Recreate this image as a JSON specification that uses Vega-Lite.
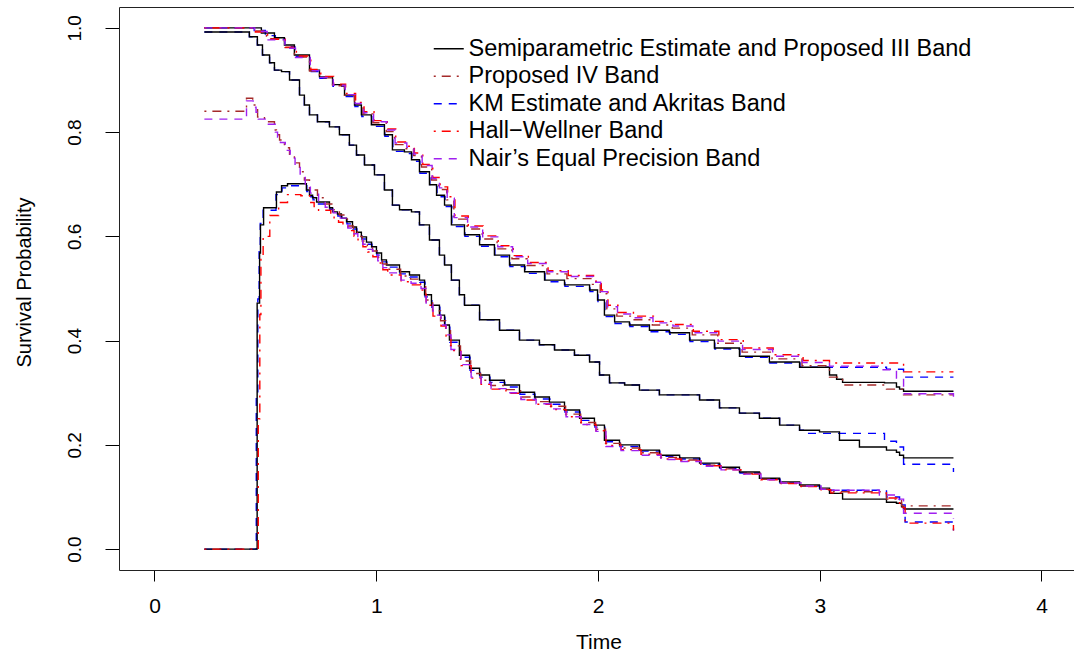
{
"$schema":"https://vega.github.io/schema/vega-lite/v6.json",
"width":955,"height":563,"autosize":"none",
"padding":{"left":119,"top":7,"right":0,"bottom":84},
"background":"white",
"view":{"stroke":null},
"config":{"axis":{"grid":false,"domainColor":"#222","domainWidth":1,"tickColor":"#000","tickWidth":1,"labelColor":"#000","titleColor":"#000","titleFontWeight":"normal"}},
"datasets":{
"meta":[{"c":"S","g":"Semiparametric Estimate and Proposed III Band"},{"c":"U3","g":"Semiparametric Estimate and Proposed III Band"},{"c":"L3","g":"Semiparametric Estimate and Proposed III Band"},{"c":"U4","g":"Proposed IV Band"},{"c":"L4","g":"Proposed IV Band"},{"c":"KM","g":"KM Estimate and Akritas Band"},{"c":"UA","g":"KM Estimate and Akritas Band"},{"c":"LA","g":"KM Estimate and Akritas Band"},{"c":"UH","g":"Hall−Wellner Band"},{"c":"LH","g":"Hall−Wellner Band"},{"c":"UN","g":"Nair’s Equal Precision Band"},{"c":"LN","g":"Nair’s Equal Precision Band"}],
"curves":[
{"c":"KM","t":0.225,"p":0.992},{"c":"KM","t":0.428,"p":0.983},{"c":"KM","t":0.464,"p":0.967},{"c":"KM","t":0.487,"p":0.948},{"c":"KM","t":0.519,"p":0.933},{"c":"KM","t":0.541,"p":0.919},{"c":"KM","t":0.573,"p":0.916},{"c":"KM","t":0.609,"p":0.9},{"c":"KM","t":0.654,"p":0.871},{"c":"KM","t":0.676,"p":0.852},{"c":"KM","t":0.699,"p":0.833},{"c":"KM","t":0.735,"p":0.82},{"c":"KM","t":0.789,"p":0.81},{"c":"KM","t":0.834,"p":0.795},{"c":"KM","t":0.879,"p":0.775},{"c":"KM","t":0.911,"p":0.756},{"c":"KM","t":0.947,"p":0.737},{"c":"KM","t":0.992,"p":0.718},{"c":"KM","t":1.037,"p":0.689},{"c":"KM","t":1.073,"p":0.66},{"c":"KM","t":1.105,"p":0.651},{"c":"KM","t":1.159,"p":0.647},{"c":"KM","t":1.195,"p":0.622},{"c":"KM","t":1.24,"p":0.593},{"c":"KM","t":1.285,"p":0.564},{"c":"KM","t":1.308,"p":0.545},{"c":"KM","t":1.339,"p":0.516},{"c":"KM","t":1.375,"p":0.488},{"c":"KM","t":1.398,"p":0.468},{"c":"KM","t":1.466,"p":0.44},{"c":"KM","t":1.556,"p":0.42},{"c":"KM","t":1.646,"p":0.401},{"c":"KM","t":1.736,"p":0.392},{"c":"KM","t":1.804,"p":0.382},{"c":"KM","t":1.894,"p":0.372},{"c":"KM","t":1.962,"p":0.359},{"c":"KM","t":2.007,"p":0.334},{"c":"KM","t":2.052,"p":0.319},{"c":"KM","t":2.12,"p":0.315},{"c":"KM","t":2.187,"p":0.305},{"c":"KM","t":2.277,"p":0.296},{"c":"KM","t":2.458,"p":0.286},{"c":"KM","t":2.548,"p":0.271},{"c":"KM","t":2.638,"p":0.261},{"c":"KM","t":2.728,"p":0.251},{"c":"KM","t":2.819,"p":0.238},{"c":"KM","t":2.909,"p":0.228},{"c":"KM","t":2.95,"p":0.222},{"c":"KM","t":3.292,"p":0.207},{"c":"KM","t":3.346,"p":0.196},{"c":"KM","t":3.378,"p":0.163},{"c":"KM","t":3.603,"p":0.148},
{"c":"UA","t":0.225,"p":1.0},{"c":"UA","t":0.45,"p":0.995},{"c":"UA","t":0.5,"p":0.985},{"c":"UA","t":0.545,"p":0.978},{"c":"UA","t":0.588,"p":0.964},{"c":"UA","t":0.633,"p":0.945},{"c":"UA","t":0.701,"p":0.916},{"c":"UA","t":0.746,"p":0.903},{"c":"UA","t":0.805,"p":0.888},{"c":"UA","t":0.859,"p":0.868},{"c":"UA","t":0.904,"p":0.849},{"c":"UA","t":0.935,"p":0.83},{"c":"UA","t":0.98,"p":0.811},{"c":"UA","t":1.039,"p":0.792},{"c":"UA","t":1.075,"p":0.763},{"c":"UA","t":1.129,"p":0.759},{"c":"UA","t":1.161,"p":0.744},{"c":"UA","t":1.197,"p":0.721},{"c":"UA","t":1.242,"p":0.696},{"c":"UA","t":1.274,"p":0.676},{"c":"UA","t":1.31,"p":0.657},{"c":"UA","t":1.341,"p":0.619},{"c":"UA","t":1.4,"p":0.6},{"c":"UA","t":1.468,"p":0.581},{"c":"UA","t":1.535,"p":0.561},{"c":"UA","t":1.603,"p":0.542},{"c":"UA","t":1.671,"p":0.529},{"c":"UA","t":1.761,"p":0.513},{"c":"UA","t":1.851,"p":0.504},{"c":"UA","t":1.964,"p":0.494},{"c":"UA","t":2.0,"p":0.475},{"c":"UA","t":2.031,"p":0.446},{"c":"UA","t":2.077,"p":0.433},{"c":"UA","t":2.144,"p":0.427},{"c":"UA","t":2.234,"p":0.417},{"c":"UA","t":2.324,"p":0.412},{"c":"UA","t":2.415,"p":0.398},{"c":"UA","t":2.527,"p":0.384},{"c":"UA","t":2.64,"p":0.368},{"c":"UA","t":2.775,"p":0.357},{"c":"UA","t":2.911,"p":0.349},{"c":"UA","t":3.301,"p":0.345},{"c":"UA","t":3.378,"p":0.33},{"c":"UA","t":3.603,"p":0.33},
{"c":"LA","t":0.225,"p":0.0},{"c":"LA","t":0.459,"p":0.3},{"c":"LA","t":0.466,"p":0.48},{"c":"LA","t":0.472,"p":0.575},{"c":"LA","t":0.477,"p":0.625},{"c":"LA","t":0.49,"p":0.65},{"c":"LA","t":0.548,"p":0.68},{"c":"LA","t":0.575,"p":0.693},{"c":"LA","t":0.602,"p":0.697},{"c":"LA","t":0.687,"p":0.686},{"c":"LA","t":0.701,"p":0.676},{"c":"LA","t":0.715,"p":0.67},{"c":"LA","t":0.733,"p":0.662},{"c":"LA","t":0.791,"p":0.652},{"c":"LA","t":0.805,"p":0.644},{"c":"LA","t":0.827,"p":0.639},{"c":"LA","t":0.845,"p":0.631},{"c":"LA","t":0.868,"p":0.624},{"c":"LA","t":0.895,"p":0.614},{"c":"LA","t":0.913,"p":0.604},{"c":"LA","t":0.935,"p":0.595},{"c":"LA","t":0.958,"p":0.585},{"c":"LA","t":0.981,"p":0.576},{"c":"LA","t":1.003,"p":0.564},{"c":"LA","t":1.026,"p":0.551},{"c":"LA","t":1.048,"p":0.541},{"c":"LA","t":1.107,"p":0.528},{"c":"LA","t":1.152,"p":0.522},{"c":"LA","t":1.197,"p":0.512},{"c":"LA","t":1.22,"p":0.484},{"c":"LA","t":1.251,"p":0.464},{"c":"LA","t":1.287,"p":0.445},{"c":"LA","t":1.31,"p":0.426},{"c":"LA","t":1.332,"p":0.397},{"c":"LA","t":1.377,"p":0.368},{"c":"LA","t":1.423,"p":0.343},{"c":"LA","t":1.468,"p":0.33},{"c":"LA","t":1.513,"p":0.32},{"c":"LA","t":1.58,"p":0.311},{"c":"LA","t":1.648,"p":0.297},{"c":"LA","t":1.716,"p":0.288},{"c":"LA","t":1.783,"p":0.278},{"c":"LA","t":1.851,"p":0.263},{"c":"LA","t":1.919,"p":0.247},{"c":"LA","t":1.986,"p":0.234},{"c":"LA","t":2.031,"p":0.206},{"c":"LA","t":2.099,"p":0.197},{"c":"LA","t":2.189,"p":0.188},{"c":"LA","t":2.279,"p":0.178},{"c":"LA","t":2.37,"p":0.173},{"c":"LA","t":2.46,"p":0.163},{"c":"LA","t":2.55,"p":0.155},{"c":"LA","t":2.64,"p":0.146},{"c":"LA","t":2.73,"p":0.134},{"c":"LA","t":2.821,"p":0.127},{"c":"LA","t":2.911,"p":0.121},{"c":"LA","t":3.001,"p":0.115},{"c":"LA","t":3.044,"p":0.113},{"c":"LA","t":3.301,"p":0.1},{"c":"LA","t":3.36,"p":0.085},{"c":"LA","t":3.385,"p":0.052},{"c":"LA","t":3.603,"p":0.036},
{"c":"S","t":0.225,"p":0.992},{"c":"S","t":0.428,"p":0.983},{"c":"S","t":0.464,"p":0.967},{"c":"S","t":0.487,"p":0.948},{"c":"S","t":0.519,"p":0.933},{"c":"S","t":0.541,"p":0.919},{"c":"S","t":0.573,"p":0.916},{"c":"S","t":0.609,"p":0.9},{"c":"S","t":0.654,"p":0.871},{"c":"S","t":0.676,"p":0.852},{"c":"S","t":0.699,"p":0.833},{"c":"S","t":0.735,"p":0.82},{"c":"S","t":0.789,"p":0.81},{"c":"S","t":0.834,"p":0.795},{"c":"S","t":0.879,"p":0.775},{"c":"S","t":0.911,"p":0.756},{"c":"S","t":0.947,"p":0.737},{"c":"S","t":0.992,"p":0.718},{"c":"S","t":1.037,"p":0.689},{"c":"S","t":1.073,"p":0.66},{"c":"S","t":1.105,"p":0.651},{"c":"S","t":1.159,"p":0.647},{"c":"S","t":1.195,"p":0.622},{"c":"S","t":1.24,"p":0.593},{"c":"S","t":1.285,"p":0.564},{"c":"S","t":1.308,"p":0.545},{"c":"S","t":1.339,"p":0.516},{"c":"S","t":1.375,"p":0.488},{"c":"S","t":1.398,"p":0.468},{"c":"S","t":1.466,"p":0.44},{"c":"S","t":1.556,"p":0.42},{"c":"S","t":1.646,"p":0.401},{"c":"S","t":1.736,"p":0.392},{"c":"S","t":1.804,"p":0.382},{"c":"S","t":1.894,"p":0.372},{"c":"S","t":1.962,"p":0.359},{"c":"S","t":2.007,"p":0.334},{"c":"S","t":2.052,"p":0.319},{"c":"S","t":2.12,"p":0.315},{"c":"S","t":2.187,"p":0.305},{"c":"S","t":2.277,"p":0.296},{"c":"S","t":2.458,"p":0.286},{"c":"S","t":2.548,"p":0.271},{"c":"S","t":2.638,"p":0.261},{"c":"S","t":2.728,"p":0.251},{"c":"S","t":2.819,"p":0.238},{"c":"S","t":2.909,"p":0.228},{"c":"S","t":2.999,"p":0.225},{"c":"S","t":3.089,"p":0.209},{"c":"S","t":3.179,"p":0.196},{"c":"S","t":3.301,"p":0.19},{"c":"S","t":3.346,"p":0.186},{"c":"S","t":3.36,"p":0.18},{"c":"S","t":3.378,"p":0.175},{"c":"S","t":3.603,"p":0.175},
{"c":"U3","t":0.225,"p":1.0},{"c":"U3","t":0.482,"p":0.99},{"c":"U3","t":0.541,"p":0.981},{"c":"U3","t":0.586,"p":0.967},{"c":"U3","t":0.631,"p":0.948},{"c":"U3","t":0.699,"p":0.919},{"c":"U3","t":0.744,"p":0.906},{"c":"U3","t":0.803,"p":0.891},{"c":"U3","t":0.857,"p":0.871},{"c":"U3","t":0.902,"p":0.852},{"c":"U3","t":0.933,"p":0.833},{"c":"U3","t":0.978,"p":0.814},{"c":"U3","t":1.037,"p":0.795},{"c":"U3","t":1.073,"p":0.766},{"c":"U3","t":1.127,"p":0.762},{"c":"U3","t":1.159,"p":0.747},{"c":"U3","t":1.195,"p":0.724},{"c":"U3","t":1.24,"p":0.699},{"c":"U3","t":1.272,"p":0.679},{"c":"U3","t":1.308,"p":0.66},{"c":"U3","t":1.339,"p":0.622},{"c":"U3","t":1.398,"p":0.603},{"c":"U3","t":1.466,"p":0.584},{"c":"U3","t":1.533,"p":0.564},{"c":"U3","t":1.601,"p":0.545},{"c":"U3","t":1.669,"p":0.532},{"c":"U3","t":1.759,"p":0.516},{"c":"U3","t":1.849,"p":0.507},{"c":"U3","t":1.962,"p":0.497},{"c":"U3","t":1.998,"p":0.478},{"c":"U3","t":2.029,"p":0.449},{"c":"U3","t":2.075,"p":0.436},{"c":"U3","t":2.142,"p":0.43},{"c":"U3","t":2.232,"p":0.42},{"c":"U3","t":2.322,"p":0.415},{"c":"U3","t":2.413,"p":0.401},{"c":"U3","t":2.525,"p":0.386},{"c":"U3","t":2.638,"p":0.37},{"c":"U3","t":2.773,"p":0.359},{"c":"U3","t":2.909,"p":0.349},{"c":"U3","t":3.044,"p":0.334},{"c":"U3","t":3.076,"p":0.326},{"c":"U3","t":3.103,"p":0.32},{"c":"U3","t":3.292,"p":0.319},{"c":"U3","t":3.346,"p":0.311},{"c":"U3","t":3.36,"p":0.307},{"c":"U3","t":3.378,"p":0.303},{"c":"U3","t":3.603,"p":0.303},
{"c":"L3","t":0.225,"p":0.0},{"c":"L3","t":0.463,"p":0.472},{"c":"L3","t":0.474,"p":0.568},{"c":"L3","t":0.478,"p":0.622},{"c":"L3","t":0.492,"p":0.655},{"c":"L3","t":0.55,"p":0.685},{"c":"L3","t":0.573,"p":0.697},{"c":"L3","t":0.6,"p":0.701},{"c":"L3","t":0.685,"p":0.689},{"c":"L3","t":0.699,"p":0.679},{"c":"L3","t":0.713,"p":0.674},{"c":"L3","t":0.731,"p":0.666},{"c":"L3","t":0.789,"p":0.655},{"c":"L3","t":0.803,"p":0.647},{"c":"L3","t":0.825,"p":0.643},{"c":"L3","t":0.843,"p":0.635},{"c":"L3","t":0.866,"p":0.628},{"c":"L3","t":0.893,"p":0.618},{"c":"L3","t":0.911,"p":0.608},{"c":"L3","t":0.933,"p":0.599},{"c":"L3","t":0.956,"p":0.589},{"c":"L3","t":0.979,"p":0.58},{"c":"L3","t":1.001,"p":0.568},{"c":"L3","t":1.024,"p":0.555},{"c":"L3","t":1.046,"p":0.545},{"c":"L3","t":1.105,"p":0.532},{"c":"L3","t":1.15,"p":0.526},{"c":"L3","t":1.195,"p":0.516},{"c":"L3","t":1.218,"p":0.488},{"c":"L3","t":1.249,"p":0.468},{"c":"L3","t":1.285,"p":0.449},{"c":"L3","t":1.308,"p":0.43},{"c":"L3","t":1.33,"p":0.401},{"c":"L3","t":1.375,"p":0.372},{"c":"L3","t":1.421,"p":0.347},{"c":"L3","t":1.466,"p":0.334},{"c":"L3","t":1.511,"p":0.324},{"c":"L3","t":1.578,"p":0.315},{"c":"L3","t":1.646,"p":0.301},{"c":"L3","t":1.714,"p":0.292},{"c":"L3","t":1.781,"p":0.282},{"c":"L3","t":1.849,"p":0.267},{"c":"L3","t":1.917,"p":0.251},{"c":"L3","t":1.984,"p":0.238},{"c":"L3","t":2.029,"p":0.209},{"c":"L3","t":2.097,"p":0.2},{"c":"L3","t":2.187,"p":0.19},{"c":"L3","t":2.277,"p":0.18},{"c":"L3","t":2.368,"p":0.175},{"c":"L3","t":2.458,"p":0.165},{"c":"L3","t":2.548,"p":0.157},{"c":"L3","t":2.638,"p":0.148},{"c":"L3","t":2.728,"p":0.136},{"c":"L3","t":2.819,"p":0.129},{"c":"L3","t":2.909,"p":0.123},{"c":"L3","t":2.999,"p":0.117},{"c":"L3","t":3.044,"p":0.107},{"c":"L3","t":3.103,"p":0.096},{"c":"L3","t":3.301,"p":0.09},{"c":"L3","t":3.346,"p":0.088},{"c":"L3","t":3.369,"p":0.081},{"c":"L3","t":3.378,"p":0.077},{"c":"L3","t":3.603,"p":0.077},
{"c":"U4","t":0.225,"p":1.0},{"c":"U4","t":0.45,"p":0.994},{"c":"U4","t":0.505,"p":0.979},{"c":"U4","t":0.586,"p":0.962},{"c":"U4","t":0.631,"p":0.944},{"c":"U4","t":0.699,"p":0.917},{"c":"U4","t":0.744,"p":0.904},{"c":"U4","t":0.803,"p":0.889},{"c":"U4","t":0.857,"p":0.871},{"c":"U4","t":0.902,"p":0.854},{"c":"U4","t":0.94,"p":0.835},{"c":"U4","t":0.985,"p":0.818},{"c":"U4","t":1.045,"p":0.801},{"c":"U4","t":1.082,"p":0.776},{"c":"U4","t":1.135,"p":0.768},{"c":"U4","t":1.168,"p":0.755},{"c":"U4","t":1.204,"p":0.733},{"c":"U4","t":1.25,"p":0.708},{"c":"U4","t":1.282,"p":0.69},{"c":"U4","t":1.318,"p":0.67},{"c":"U4","t":1.35,"p":0.633},{"c":"U4","t":1.41,"p":0.614},{"c":"U4","t":1.478,"p":0.595},{"c":"U4","t":1.545,"p":0.576},{"c":"U4","t":1.612,"p":0.557},{"c":"U4","t":1.68,"p":0.544},{"c":"U4","t":1.77,"p":0.528},{"c":"U4","t":1.86,"p":0.519},{"c":"U4","t":1.975,"p":0.508},{"c":"U4","t":2.01,"p":0.49},{"c":"U4","t":2.04,"p":0.461},{"c":"U4","t":2.085,"p":0.447},{"c":"U4","t":2.155,"p":0.44},{"c":"U4","t":2.245,"p":0.43},{"c":"U4","t":2.335,"p":0.424},{"c":"U4","t":2.425,"p":0.411},{"c":"U4","t":2.54,"p":0.395},{"c":"U4","t":2.65,"p":0.378},{"c":"U4","t":2.785,"p":0.365},{"c":"U4","t":2.92,"p":0.352},{"c":"U4","t":3.044,"p":0.33},{"c":"U4","t":3.103,"p":0.315},{"c":"U4","t":3.301,"p":0.307},{"c":"U4","t":3.378,"p":0.296},{"c":"U4","t":3.603,"p":0.296},
{"c":"L4","t":0.225,"p":0.84},{"c":"L4","t":0.415,"p":0.865},{"c":"L4","t":0.443,"p":0.852},{"c":"L4","t":0.456,"p":0.843},{"c":"L4","t":0.465,"p":0.829},{"c":"L4","t":0.496,"p":0.82},{"c":"L4","t":0.541,"p":0.804},{"c":"L4","t":0.55,"p":0.795},{"c":"L4","t":0.564,"p":0.785},{"c":"L4","t":0.586,"p":0.77},{"c":"L4","t":0.609,"p":0.756},{"c":"L4","t":0.631,"p":0.741},{"c":"L4","t":0.654,"p":0.724},{"c":"L4","t":0.676,"p":0.708},{"c":"L4","t":0.699,"p":0.689},{"c":"L4","t":0.735,"p":0.674},{"c":"L4","t":0.766,"p":0.662},{"c":"L4","t":0.803,"p":0.651},{"c":"L4","t":0.834,"p":0.641},{"c":"L4","t":0.87,"p":0.62},{"c":"L4","t":0.897,"p":0.61},{"c":"L4","t":0.915,"p":0.6},{"c":"L4","t":0.937,"p":0.591},{"c":"L4","t":0.96,"p":0.581},{"c":"L4","t":0.983,"p":0.572},{"c":"L4","t":1.005,"p":0.56},{"c":"L4","t":1.028,"p":0.547},{"c":"L4","t":1.05,"p":0.537},{"c":"L4","t":1.11,"p":0.524},{"c":"L4","t":1.155,"p":0.518},{"c":"L4","t":1.2,"p":0.508},{"c":"L4","t":1.223,"p":0.478},{"c":"L4","t":1.254,"p":0.457},{"c":"L4","t":1.29,"p":0.438},{"c":"L4","t":1.313,"p":0.419},{"c":"L4","t":1.335,"p":0.39},{"c":"L4","t":1.38,"p":0.361},{"c":"L4","t":1.426,"p":0.337},{"c":"L4","t":1.471,"p":0.324},{"c":"L4","t":1.516,"p":0.314},{"c":"L4","t":1.583,"p":0.306},{"c":"L4","t":1.651,"p":0.292},{"c":"L4","t":1.719,"p":0.283},{"c":"L4","t":1.786,"p":0.274},{"c":"L4","t":1.854,"p":0.259},{"c":"L4","t":1.922,"p":0.243},{"c":"L4","t":1.989,"p":0.23},{"c":"L4","t":2.034,"p":0.203},{"c":"L4","t":2.102,"p":0.194},{"c":"L4","t":2.192,"p":0.185},{"c":"L4","t":2.282,"p":0.176},{"c":"L4","t":2.373,"p":0.171},{"c":"L4","t":2.463,"p":0.161},{"c":"L4","t":2.553,"p":0.154},{"c":"L4","t":2.643,"p":0.145},{"c":"L4","t":2.733,"p":0.134},{"c":"L4","t":2.824,"p":0.127},{"c":"L4","t":2.914,"p":0.121},{"c":"L4","t":3.004,"p":0.115},{"c":"L4","t":3.05,"p":0.11},{"c":"L4","t":3.301,"p":0.096},{"c":"L4","t":3.369,"p":0.083},{"c":"L4","t":3.603,"p":0.083},
{"c":"UH","t":0.225,"p":1.0},{"c":"UH","t":0.455,"p":0.992},{"c":"UH","t":0.51,"p":0.978},{"c":"UH","t":0.59,"p":0.963},{"c":"UH","t":0.64,"p":0.946},{"c":"UH","t":0.705,"p":0.92},{"c":"UH","t":0.75,"p":0.907},{"c":"UH","t":0.808,"p":0.892},{"c":"UH","t":0.862,"p":0.874},{"c":"UH","t":0.907,"p":0.857},{"c":"UH","t":0.945,"p":0.839},{"c":"UH","t":0.99,"p":0.822},{"c":"UH","t":1.05,"p":0.806},{"c":"UH","t":1.088,"p":0.781},{"c":"UH","t":1.14,"p":0.773},{"c":"UH","t":1.172,"p":0.76},{"c":"UH","t":1.21,"p":0.738},{"c":"UH","t":1.255,"p":0.713},{"c":"UH","t":1.288,"p":0.695},{"c":"UH","t":1.322,"p":0.676},{"c":"UH","t":1.355,"p":0.639},{"c":"UH","t":1.415,"p":0.62},{"c":"UH","t":1.482,"p":0.601},{"c":"UH","t":1.55,"p":0.582},{"c":"UH","t":1.618,"p":0.563},{"c":"UH","t":1.686,"p":0.55},{"c":"UH","t":1.775,"p":0.534},{"c":"UH","t":1.866,"p":0.525},{"c":"UH","t":1.98,"p":0.514},{"c":"UH","t":2.015,"p":0.497},{"c":"UH","t":2.045,"p":0.468},{"c":"UH","t":2.09,"p":0.454},{"c":"UH","t":2.16,"p":0.447},{"c":"UH","t":2.25,"p":0.437},{"c":"UH","t":2.34,"p":0.431},{"c":"UH","t":2.43,"p":0.418},{"c":"UH","t":2.545,"p":0.402},{"c":"UH","t":2.655,"p":0.386},{"c":"UH","t":2.79,"p":0.373},{"c":"UH","t":2.925,"p":0.362},{"c":"UH","t":3.044,"p":0.357},{"c":"UH","t":3.378,"p":0.34},{"c":"UH","t":3.603,"p":0.34},
{"c":"LH","t":0.225,"p":0.0},{"c":"LH","t":0.468,"p":0.25},{"c":"LH","t":0.475,"p":0.45},{"c":"LH","t":0.48,"p":0.56},{"c":"LH","t":0.49,"p":0.6},{"c":"LH","t":0.52,"p":0.64},{"c":"LH","t":0.56,"p":0.665},{"c":"LH","t":0.6,"p":0.68},{"c":"LH","t":0.66,"p":0.678},{"c":"LH","t":0.7,"p":0.665},{"c":"LH","t":0.72,"p":0.657},{"c":"LH","t":0.74,"p":0.65},{"c":"LH","t":0.795,"p":0.64},{"c":"LH","t":0.81,"p":0.632},{"c":"LH","t":0.83,"p":0.627},{"c":"LH","t":0.85,"p":0.619},{"c":"LH","t":0.872,"p":0.611},{"c":"LH","t":0.9,"p":0.6},{"c":"LH","t":0.918,"p":0.59},{"c":"LH","t":0.94,"p":0.58},{"c":"LH","t":0.962,"p":0.57},{"c":"LH","t":0.985,"p":0.561},{"c":"LH","t":1.008,"p":0.549},{"c":"LH","t":1.03,"p":0.536},{"c":"LH","t":1.052,"p":0.526},{"c":"LH","t":1.112,"p":0.513},{"c":"LH","t":1.157,"p":0.507},{"c":"LH","t":1.202,"p":0.497},{"c":"LH","t":1.225,"p":0.468},{"c":"LH","t":1.256,"p":0.447},{"c":"LH","t":1.292,"p":0.428},{"c":"LH","t":1.315,"p":0.409},{"c":"LH","t":1.337,"p":0.381},{"c":"LH","t":1.382,"p":0.352},{"c":"LH","t":1.428,"p":0.328},{"c":"LH","t":1.473,"p":0.316},{"c":"LH","t":1.518,"p":0.307},{"c":"LH","t":1.585,"p":0.299},{"c":"LH","t":1.653,"p":0.286},{"c":"LH","t":1.721,"p":0.278},{"c":"LH","t":1.788,"p":0.268},{"c":"LH","t":1.856,"p":0.254},{"c":"LH","t":1.924,"p":0.239},{"c":"LH","t":1.991,"p":0.227},{"c":"LH","t":2.036,"p":0.199},{"c":"LH","t":2.104,"p":0.191},{"c":"LH","t":2.194,"p":0.182},{"c":"LH","t":2.284,"p":0.173},{"c":"LH","t":2.375,"p":0.169},{"c":"LH","t":2.465,"p":0.16},{"c":"LH","t":2.555,"p":0.152},{"c":"LH","t":2.645,"p":0.144},{"c":"LH","t":2.735,"p":0.133},{"c":"LH","t":2.826,"p":0.126},{"c":"LH","t":2.916,"p":0.12},{"c":"LH","t":3.006,"p":0.114},{"c":"LH","t":3.05,"p":0.108},{"c":"LH","t":3.3,"p":0.098},{"c":"LH","t":3.36,"p":0.08},{"c":"LH","t":3.385,"p":0.05},{"c":"LH","t":3.603,"p":0.036},
{"c":"UN","t":0.225,"p":1.0},{"c":"UN","t":0.452,"p":0.993},{"c":"UN","t":0.508,"p":0.977},{"c":"UN","t":0.588,"p":0.961},{"c":"UN","t":0.636,"p":0.943},{"c":"UN","t":0.702,"p":0.918},{"c":"UN","t":0.748,"p":0.905},{"c":"UN","t":0.806,"p":0.89},{"c":"UN","t":0.86,"p":0.872},{"c":"UN","t":0.905,"p":0.855},{"c":"UN","t":0.943,"p":0.837},{"c":"UN","t":0.988,"p":0.82},{"c":"UN","t":1.048,"p":0.804},{"c":"UN","t":1.085,"p":0.779},{"c":"UN","t":1.138,"p":0.771},{"c":"UN","t":1.17,"p":0.758},{"c":"UN","t":1.207,"p":0.736},{"c":"UN","t":1.252,"p":0.711},{"c":"UN","t":1.285,"p":0.693},{"c":"UN","t":1.32,"p":0.673},{"c":"UN","t":1.352,"p":0.636},{"c":"UN","t":1.412,"p":0.618},{"c":"UN","t":1.48,"p":0.599},{"c":"UN","t":1.548,"p":0.58},{"c":"UN","t":1.615,"p":0.561},{"c":"UN","t":1.683,"p":0.548},{"c":"UN","t":1.773,"p":0.532},{"c":"UN","t":1.863,"p":0.523},{"c":"UN","t":1.978,"p":0.512},{"c":"UN","t":2.012,"p":0.494},{"c":"UN","t":2.042,"p":0.465},{"c":"UN","t":2.088,"p":0.451},{"c":"UN","t":2.158,"p":0.444},{"c":"UN","t":2.248,"p":0.434},{"c":"UN","t":2.338,"p":0.428},{"c":"UN","t":2.428,"p":0.415},{"c":"UN","t":2.542,"p":0.399},{"c":"UN","t":2.652,"p":0.383},{"c":"UN","t":2.788,"p":0.37},{"c":"UN","t":2.922,"p":0.358},{"c":"UN","t":3.044,"p":0.351},{"c":"UN","t":3.269,"p":0.344},{"c":"UN","t":3.346,"p":0.328},{"c":"UN","t":3.378,"p":0.298},{"c":"UN","t":3.603,"p":0.286},
{"c":"LN","t":0.225,"p":0.825},{"c":"LN","t":0.415,"p":0.86},{"c":"LN","t":0.445,"p":0.848},{"c":"LN","t":0.458,"p":0.838},{"c":"LN","t":0.468,"p":0.825},{"c":"LN","t":0.5,"p":0.815},{"c":"LN","t":0.545,"p":0.8},{"c":"LN","t":0.555,"p":0.79},{"c":"LN","t":0.568,"p":0.78},{"c":"LN","t":0.59,"p":0.765},{"c":"LN","t":0.612,"p":0.75},{"c":"LN","t":0.634,"p":0.735},{"c":"LN","t":0.657,"p":0.718},{"c":"LN","t":0.68,"p":0.7},{"c":"LN","t":0.703,"p":0.683},{"c":"LN","t":0.74,"p":0.668},{"c":"LN","t":0.77,"p":0.656},{"c":"LN","t":0.806,"p":0.645},{"c":"LN","t":0.838,"p":0.635},{"c":"LN","t":0.872,"p":0.616},{"c":"LN","t":0.899,"p":0.605},{"c":"LN","t":0.917,"p":0.595},{"c":"LN","t":0.939,"p":0.585},{"c":"LN","t":0.962,"p":0.575},{"c":"LN","t":0.985,"p":0.565},{"c":"LN","t":1.007,"p":0.553},{"c":"LN","t":1.03,"p":0.54},{"c":"LN","t":1.052,"p":0.53},{"c":"LN","t":1.112,"p":0.516},{"c":"LN","t":1.157,"p":0.51},{"c":"LN","t":1.202,"p":0.5},{"c":"LN","t":1.225,"p":0.47},{"c":"LN","t":1.256,"p":0.449},{"c":"LN","t":1.292,"p":0.43},{"c":"LN","t":1.315,"p":0.411},{"c":"LN","t":1.337,"p":0.383},{"c":"LN","t":1.382,"p":0.354},{"c":"LN","t":1.428,"p":0.33},{"c":"LN","t":1.473,"p":0.318},{"c":"LN","t":1.518,"p":0.308},{"c":"LN","t":1.585,"p":0.3},{"c":"LN","t":1.653,"p":0.287},{"c":"LN","t":1.721,"p":0.279},{"c":"LN","t":1.788,"p":0.269},{"c":"LN","t":1.856,"p":0.254},{"c":"LN","t":1.924,"p":0.239},{"c":"LN","t":1.991,"p":0.226},{"c":"LN","t":2.036,"p":0.197},{"c":"LN","t":2.104,"p":0.189},{"c":"LN","t":2.194,"p":0.18},{"c":"LN","t":2.284,"p":0.172},{"c":"LN","t":2.375,"p":0.168},{"c":"LN","t":2.465,"p":0.159},{"c":"LN","t":2.555,"p":0.152},{"c":"LN","t":2.645,"p":0.144},{"c":"LN","t":2.735,"p":0.133},{"c":"LN","t":2.826,"p":0.127},{"c":"LN","t":2.916,"p":0.121},{"c":"LN","t":3.006,"p":0.115},{"c":"LN","t":3.044,"p":0.113},{"c":"LN","t":3.269,"p":0.104},{"c":"LN","t":3.346,"p":0.096},{"c":"LN","t":3.378,"p":0.069},{"c":"LN","t":3.603,"p":0.058}
]},
"data":{"name":"curves"},
"transform":[{"lookup":"c","from":{"data":{"name":"meta"},"key":"c","fields":["g"]}}],
"layer":[
{"mark":{"type":"line","interpolate":"step-after","strokeWidth":1.4},
 "encoding":{
  "x":{"field":"t","type":"quantitative","scale":{"domain":[-0.16,4.1466],"nice":false,"zero":false},
       "axis":{"orient":"bottom","values":[0,1,2,3,4],"format":"d","tickSize":11,"labelPadding":14,"labelFont":"Liberation Sans","labelFontSize":21,"labelBaseline":"top","title":"Time","titleFont":"Liberation Sans","titleFontSize":21,"titleX":479.5,"titleY":78,"titleBaseline":"alphabetic","titleAlign":"center"}},
  "y":{"field":"p","type":"quantitative","scale":{"domain":[-0.04,1.04],"nice":false,"zero":false},
       "axis":{"values":[0,0.2,0.4,0.6,0.8,1.0],"format":".1f","tickSize":14,"labelPadding":25,"labelAngle":-90,"labelAlign":"center","labelBaseline":"alphabetic","labelFont":"Liberation Sans","labelFontSize":19,"title":"Survival Probability","titleFont":"Liberation Sans","titleFontSize":20,"titleAngle":-90,"titleX":-89,"titleY":275,"titleAlign":"center","titleBaseline":"alphabetic"}},
  "color":{"field":"g","type":"nominal","scale":{"domain":["Semiparametric Estimate and Proposed III Band","Proposed IV Band","KM Estimate and Akritas Band","Hall−Wellner Band","Nair’s Equal Precision Band"],"range":["#000000","#A52A2A","#0000FF","#FF0000","#A020F0"]},
           "legend":{"title":null,"orient":"none","legendX":318,"legendY":30,"padding":0,"symbolType":"M-1.5,0H1.5","symbolSize":400,"symbolStrokeWidth":1.4,"labelFont":"Liberation Sans","labelFontSize":23.5,"labelColor":"#000","labelOffset":8,"labelLimit":0,"rowPadding":2.5}},
  "strokeDash":{"field":"g","type":"nominal","scale":{"domain":["Semiparametric Estimate and Proposed III Band","Proposed IV Band","KM Estimate and Akritas Band","Hall−Wellner Band","Nair’s Equal Precision Band"],"range":[[1,0],[2,6,9,6],[8,7],[2,6,9,6],[8,7]]},
           "legend":{"title":null,"orient":"none","legendX":318,"legendY":30,"padding":0,"symbolType":"M-1.5,0H1.5","symbolSize":400,"symbolStrokeWidth":1.4,"labelFont":"Liberation Sans","labelFontSize":23.5,"labelColor":"#000","labelOffset":8,"labelLimit":0,"rowPadding":2.5}},
  "detail":{"field":"c","type":"nominal"}
 }},
{"mark":{"type":"line","opacity":0},
 "encoding":{
  "x":{"field":"t","type":"quantitative","axis":{"orient":"top","labels":false,"ticks":false,"title":null,"domain":true}},
  "y":{"field":"p","type":"quantitative"},
  "detail":{"field":"c","type":"nominal"}
 }}
],
"resolve":{"axis":{"x":"independent"}}
}
